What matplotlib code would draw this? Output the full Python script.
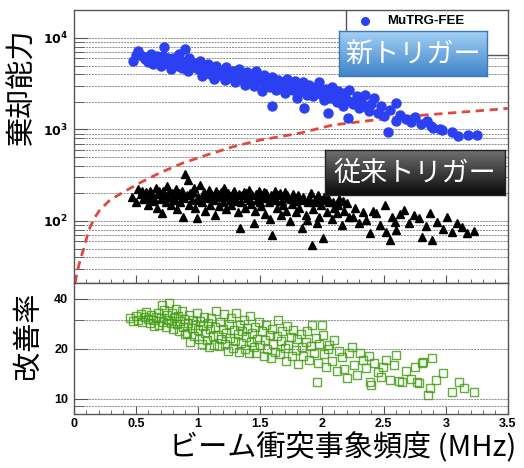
import numpy as np
from matplotlib import pyplot as plt
from matplotlib.patches import Rectangle
from matplotlib.ticker import NullFormatter

plt.rcParams['font.family'] = ['Liberation Sans', 'DejaVu Sans']
JP = ['Noto Sans CJK JP', 'DejaVu Sans']

# rejection power, new trigger (MuTRG-FEE)
blue_x = [0.48, 0.52, 0.55, 0.57, 0.60, 0.62, 0.64, 0.66, 0.68, 0.70,
          0.72, 0.74, 0.73, 0.77, 0.78, 0.80, 0.82, 0.84, 0.85, 0.87,
          0.88, 0.90, 0.92, 0.93, 0.95, 0.97, 1.00, 1.02, 1.03, 1.05,
          1.07, 1.08, 1.10, 1.12, 1.13, 1.15, 1.17, 1.18, 1.20, 1.22,
          1.23, 1.25, 1.27, 1.28, 1.30, 1.32, 1.33, 1.35, 1.37, 1.38,
          1.40, 1.42, 1.43, 1.45, 1.47, 1.48, 1.50, 1.52, 1.53, 1.55,
          1.57, 1.58, 1.60, 1.62, 1.63, 1.65, 1.67, 1.68, 1.70, 1.72,
          1.73, 1.75, 1.77, 1.78, 1.80, 1.82, 1.83, 1.85, 1.87, 1.88,
          1.90, 1.92, 1.93, 1.95, 1.97, 1.98, 2.00, 2.02, 2.03, 2.05,
          2.07, 2.08, 2.10, 2.12, 2.13, 2.15, 2.17, 2.18, 2.20, 2.22,
          2.25, 2.28, 2.30, 2.32, 2.35, 2.38, 2.40, 2.42, 2.45, 2.48,
          2.50, 2.55, 2.60, 2.63, 2.68, 2.72, 2.75, 2.80, 2.85, 2.88,
          2.95, 3.05, 3.10, 3.18, 3.25,
          0.50, 0.58, 0.63, 0.67, 0.71, 0.76, 0.79, 0.83, 0.86, 0.91,
          0.94, 0.99, 1.04, 1.09, 1.14, 1.19, 1.24, 1.29, 1.34, 1.39,
          1.44, 1.49, 1.54, 1.59, 1.64, 1.69, 1.74, 1.79, 1.84, 1.89,
          1.94, 1.99, 2.04, 2.09, 2.14, 2.19, 2.24, 2.29, 2.34, 1.60,
          1.86, 2.05, 2.21, 2.53, 2.60, 2.90, 2.97]
blue_y = [5600, 7200, 6300, 5900, 5500, 6700, 5200, 6000, 5700, 4900,
          6400, 5300, 7900, 5800, 4600, 6100, 5400, 5000, 6600, 4700,
          5500, 7600, 4400, 6000, 4800, 5300, 4600, 5600, 3800, 4900,
          4300, 5200, 4000, 4700, 3600, 5000, 4200, 3900, 4500, 3500,
          4800, 4100, 3700, 4400, 3300, 4000, 4600, 3600, 3900, 3100,
          4200, 3500, 3800, 3000, 4400, 3300, 3600, 2600, 3900, 3100,
          3400, 2900, 3700, 3200, 2700, 3500, 3000, 3300, 2500, 3600,
          2900, 3200, 2700, 3400, 2200, 3000, 2600, 3300, 2800, 2400,
          3100, 2700, 2300, 2900, 2600, 3300, 2400, 2100, 2800, 2500,
          2200, 2900, 2400, 2000, 2600, 2300, 1800, 2500, 2100, 2700,
          1900, 2300, 1700, 2000, 2400, 1600, 1900, 2200, 1500, 1800,
          1400, 1650, 1250, 1450, 1300, 1200, 1380, 1150, 1250, 1100,
          1000, 930, 850, 870, 860,
          6500, 6200, 5800, 6300, 5600, 6000, 5100, 5800, 5300, 5600,
          5100, 5000, 4500, 4700, 4300, 4400, 3900, 4100, 3800, 3600,
          3700, 3500, 3300, 3200, 3100, 3000, 2800, 2900, 2700, 2600,
          2500, 2600, 2300, 2200, 2100, 2200, 2000, 1900, 1800, 1800,
          1720, 1500, 1350, 940, 1950, 1050, 990]

# rejection power, conventional trigger
black_x = [0.47, 0.50, 0.52, 0.54, 0.56, 0.58, 0.60, 0.61, 0.63, 0.64,
           0.66, 0.67, 0.68, 0.70, 0.71, 0.72, 0.74, 0.75, 0.76, 0.78,
           0.79, 0.80, 0.82, 0.83, 0.84, 0.86, 0.87, 0.88, 0.89, 0.90,
           0.92, 0.93, 0.94, 0.95, 0.97, 0.98, 0.99, 1.00, 1.02, 1.03,
           1.05, 1.06, 1.07, 1.09, 1.10, 1.11, 1.13, 1.14, 1.15, 1.17,
           1.18, 1.20, 1.21, 1.23, 1.24, 1.26, 1.27, 1.29, 1.30, 1.32,
           1.33, 1.34, 1.35, 1.37, 1.38, 1.40, 1.41, 1.43, 1.44, 1.45,
           1.46, 1.48, 1.49, 1.51, 1.52, 1.54, 1.55, 1.57, 1.58, 1.60,
           1.61, 1.62, 1.64, 1.65, 1.67, 1.68, 1.70, 1.71, 1.73, 1.74,
           1.76, 1.77, 1.79, 1.80, 1.82, 1.84, 1.85, 1.87, 1.88, 1.89,
           1.91, 1.92, 1.93, 1.95, 1.96, 1.98, 1.99, 2.01, 2.02, 2.04,
           2.06, 2.08, 2.10, 2.12, 2.14, 2.16, 2.18, 2.20, 2.22, 2.25,
           2.27, 2.30, 2.33, 2.36, 2.39, 2.41, 2.44, 2.47, 2.51, 2.52,
           2.55, 2.57, 2.59, 2.60, 2.63, 2.66, 2.70, 2.74, 2.78, 2.81,
           2.84, 2.87, 2.89, 2.93, 2.98, 3.01, 3.05, 3.09, 3.13, 3.17,
           3.23,
           0.55, 0.59, 0.62, 0.65, 0.69, 0.73, 0.77, 0.81, 0.85, 0.91,
           0.96, 1.01, 1.04, 1.08, 1.12, 1.16, 1.19, 1.22, 1.25, 1.28,
           1.31, 1.36, 1.39, 1.42, 1.47, 1.50, 1.53, 1.56, 1.59, 1.63,
           1.66, 1.69, 1.72, 1.75, 1.78, 1.81, 1.86, 1.90, 1.94, 1.97,
           2.00, 2.05, 2.09, 2.13, 2.17]
black_y = [183, 160, 224, 195, 175, 205, 150, 215, 185, 165,
           230, 140, 195, 175, 122, 210, 160, 240, 185, 150,
           200, 170, 225, 135, 190, 160, 210, 111, 180, 326,
           281, 150, 200, 170, 230, 140, 108, 185, 247, 160,
           205, 130, 180, 220, 150, 195, 170, 116, 210, 145,
           185, 160, 230, 135, 200, 170, 150, 215, 180, 125,
           195, 84, 160, 205, 140, 180, 220, 155, 190, 96,
           130, 170, 210, 145, 185, 120, 200, 160, 105, 70,
           175, 215, 140, 190, 115, 165, 205, 130, 180, 100,
           155, 195, 125, 170, 140, 84, 185, 115, 103, 160,
           200, 55, 135, 175, 95, 111, 150, 65, 185, 125,
           160, 105, 140, 122, 175, 90, 130, 157, 110, 111,
           140, 95, 125, 103, 74, 130, 122, 90, 149, 76,
           62, 110, 98, 80, 120, 132, 95, 115, 108, 67,
           88, 122, 62, 98, 82, 110, 76, 95, 85, 74,
           78,
           210, 180, 200, 175, 215, 190, 205, 180, 200, 190,
           205, 170, 190, 200, 180, 195, 205, 185, 190, 200,
           165, 190, 200, 170, 195, 160, 205, 180, 190, 170,
           200, 150, 190, 175, 165, 190, 170, 180, 160, 190,
           170, 180, 160, 150, 165]

# dashed red curve
red_x = [0.01, 0.025, 0.05, 0.08, 0.105, 0.13, 0.17, 0.21, 0.29, 0.40,
         0.53, 0.69, 0.88, 1.07, 1.28, 1.50, 1.82, 2.09, 2.63, 3.00,
         3.44, 3.50]
red_y = [21, 27, 37, 50, 67, 85, 110, 132, 169, 207,
         260, 334, 430, 525, 645, 765, 910, 1120, 1370, 1500,
         1670, 1700]

# improvement factor
green_x = [0.45, 0.48, 0.50, 0.52, 0.54, 0.55, 0.57, 0.58, 0.60, 0.61,
           0.62, 0.64, 0.65, 0.66, 0.68, 0.69, 0.70, 0.71, 0.72, 0.73,
           0.74, 0.75, 0.76, 0.77, 0.78, 0.79, 0.80, 0.81, 0.82, 0.83,
           0.84, 0.85, 0.86, 0.87, 0.88, 0.89, 0.90, 0.91, 0.92, 0.93,
           0.94, 0.95, 0.96, 0.97, 0.98, 0.99, 1.00, 1.01, 1.02, 1.03,
           1.04, 1.05, 1.06, 1.07, 1.08, 1.09, 1.10, 1.11, 1.12, 1.13,
           1.14, 1.15, 1.16, 1.17, 1.18, 1.19, 1.20, 1.21, 1.22, 1.23,
           1.24, 1.25, 1.26, 1.27, 1.28, 1.29, 1.30, 1.31, 1.32, 1.33,
           1.34, 1.35, 1.36, 1.37, 1.38, 1.39, 1.40, 1.41, 1.42, 1.43,
           1.44, 1.45, 1.46, 1.47, 1.48, 1.49, 1.50, 1.52, 1.53, 1.54,
           1.55, 1.56, 1.58, 1.59, 1.60, 1.61, 1.62, 1.64, 1.65, 1.66,
           1.67, 1.68, 1.70, 1.71, 1.72, 1.73, 1.75, 1.76, 1.77, 1.79,
           1.80, 1.81, 1.83, 1.84, 1.85, 1.87, 1.88, 1.90, 1.91, 1.92,
           1.94, 1.95, 1.96, 1.97, 1.98, 2.00, 2.01, 2.02, 2.03, 2.05,
           2.06, 2.08, 2.10, 2.12, 2.14, 2.16, 2.18, 2.20, 2.22, 2.24,
           2.26, 2.28, 2.31, 2.33, 2.36, 2.38, 2.39, 2.40, 2.42, 2.45,
           2.48, 2.49, 2.52, 2.55, 2.58, 2.60, 2.62, 2.65, 2.68, 2.72,
           2.75, 2.77, 2.78, 2.81, 2.82, 2.86, 2.87, 2.89, 2.92, 2.98,
           3.05, 3.11, 3.15, 3.23]
green_y = [30.6, 29.5, 31.5, 30.0, 32.5, 29.0, 31.0, 33.5, 30.2, 28.5,
           32.0, 29.8, 27.5, 31.2, 33.0, 28.0, 30.5, 36.7, 29.2, 34.5,
           27.2, 31.8, 30.0, 38.0, 28.8, 32.8, 26.5, 30.8, 35.0, 28.2,
           31.5, 25.5, 29.5, 33.8, 27.0, 30.2, 24.5, 25.0, 28.5, 32.0,
           22.0, 26.8, 30.0, 24.0, 28.0, 33.0, 26.0, 23.0, 29.5, 21.5,
           27.5, 31.0, 24.8, 22.5, 28.8, 20.5, 26.2, 30.5, 23.8, 21.0,
           27.0, 34.0, 24.2, 20.8, 29.0, 22.8, 26.5, 32.5, 21.5, 25.0,
           19.5, 28.2, 23.2, 30.8, 20.2, 26.0, 22.2, 33.0, 24.5, 19.2,
           27.8, 21.8, 25.5, 29.8, 20.0, 23.5, 26.8, 18.8, 31.5, 22.0,
           24.8, 20.5, 27.2, 19.0, 23.0, 29.0, 21.2, 25.8, 18.0, 22.5,
           28.0, 20.0, 24.2, 17.5, 26.5, 21.5, 19.2, 23.8, 30.0, 18.5,
           22.2, 25.5, 20.2, 16.8, 27.5, 21.0, 23.5, 18.2, 26.0, 19.8,
           22.8, 16.2, 24.5, 20.5, 18.0, 22.0, 25.8, 17.2, 20.8, 28.0,
           19.0, 23.2, 12.6, 16.5, 21.5, 28.0, 24.3, 18.5, 15.5, 20.0,
           21.1, 17.0, 22.5, 14.8, 19.5, 17.8, 15.2, 13.4, 18.8, 20.5,
           16.0, 14.0, 19.0, 17.2, 15.3, 18.2, 12.6, 12.1, 16.5, 14.5,
           13.6, 15.6, 17.2, 13.0, 16.0, 18.4, 12.8, 12.6, 14.8, 13.2,
           15.5, 12.6, 12.4, 16.4, 16.7, 10.5, 11.6, 17.6, 13.0, 14.3,
           11.0, 12.6, 11.6, 11.0]

x_ticks = [0, 0.5, 1, 1.5, 2, 2.5, 3, 3.5]
x_ticklabels = ['0', '0.5', '1', '1.5', '2', '2.5', '3', '3.5']
top_ticks = [1e2, 1e3, 1e4]
top_ticklabels = [r'$\mathbf{10^{2}}$', r'$\mathbf{10^{3}}$', r'$\mathbf{10^{4}}$']
bot_ticks = [10, 20, 40]
bot_ticklabels = ['10', '20', '40']

fig = plt.figure(figsize=(5.24, 4.68), dpi=100)
ax1 = fig.add_axes([0.141, 0.3953, 0.828, 0.5833])
ax2 = fig.add_axes([0.141, 0.1154, 0.828, 0.2799], sharex=ax1)

grid_kw = dict(color='#8c8c8c', linewidth=0.7, dashes=(2.0, 1.0))
spine_col = '#555555'

# top panel
ax1.plot(red_x, red_y, '--', color='#e0493d', lw=2.0, dashes=(3, 2), zorder=2)
ax1.plot(blue_x, blue_y, 'o', ms=6.5, color='#2b40f2', mec='#2b40f2', zorder=3)
ax1.plot(black_x, black_y, '^', ms=5.5, color='black', zorder=3)
ax1.set_yscale('log')
ax1.set_ylim(21, 20200)
ax1.set_xlim(0, 3.5)
ax1.set_yticks(top_ticks, top_ticklabels)
ax1.yaxis.set_minor_formatter(NullFormatter())
ax1.grid(True, axis='y', which='both', **grid_kw)

# bottom panel
ax2.plot(green_x, green_y, 's', ms=5.5, mfc='none', mec='#45a015', mew=1.0, alpha=0.85, zorder=3)
ax2.set_yscale('log')
ax2.set_ylim(8.1, 49.9)
ax2.set_yticks(bot_ticks, bot_ticklabels)
ax2.set_yticks([9, 30], minor=True)
ax2.yaxis.set_minor_formatter(NullFormatter())
ax2.grid(True, axis='y', which='both', **grid_kw)
ax2.set_xticks(x_ticks, x_ticklabels)
ax2.set_xticks(np.arange(0, 3.51, 0.1), minor=True)

for ax in (ax1, ax2):
    ax.set_axisbelow(True)
    for s in ax.spines.values():
        s.set_color(spine_col)
        s.set_linewidth(1.0)
    ax.tick_params(axis='y', which='major', direction='in', length=10, width=0.8,
                   color=spine_col, labelsize=9, pad=4)
    ax.tick_params(axis='y', which='minor', direction='in', length=7, width=0.6, color=spine_col)
    ax.tick_params(axis='x', which='major', direction='in', length=6, width=0.8, color=spine_col,
                   labelsize=9, pad=3)
    ax.tick_params(axis='x', which='minor', direction='in', length=3, width=0.6, color=spine_col)
    for lab in ax.get_xticklabels() + ax.get_yticklabels():
        lab.set_fontweight('bold')
ax1.tick_params(axis='x', labelbottom=False)

# legend box
ax1.add_patch(Rectangle((0.627, 0.835), 0.373, 0.165, transform=ax1.transAxes,
                        facecolor='white', edgecolor=spine_col, lw=1.0, zorder=5))
ax1.plot([0.670], [0.958], 'o', ms=5.5, color='#2b40f2', transform=ax1.transAxes, zorder=6)
ax1.text(0.721, 0.958, 'MuTRG-FEE', transform=ax1.transAxes, fontsize=9.5,
         fontweight='bold', va='center', ha='left', zorder=6)


def label_box(rect, top_col, bot_col, edge_col, text):
    bax = fig.add_axes(rect)
    c0 = np.array(plt.matplotlib.colors.to_rgb(top_col))
    c1 = np.array(plt.matplotlib.colors.to_rgb(bot_col))
    t = np.linspace(0, 1, 64)[:, None, None]
    grad = np.repeat(c0 + (c1 - c0) * t, 2, axis=1)
    bax.imshow(grad, aspect='auto', extent=[0, 1, 0, 1])
    bax.set_xticks([])
    bax.set_yticks([])
    for s in bax.spines.values():
        s.set_color(edge_col)
        s.set_linewidth(1.0)
    bax.text(0.5, 0.48, text, color='white', fontsize=19.5, family=JP,
             ha='center', va='center')


label_box([0.647, 0.838, 0.282, 0.096], '#a3d0f4', '#3f84cb', '#3a78b8', '新トリガー')
label_box([0.620, 0.583, 0.344, 0.096], '#707070', '#0a0a0a', '#222222', '従来トリガー')

# axis titles
fig.text(0.044, 0.814, '棄却能力', rotation=90, fontsize=21, family=JP, ha='center', va='center')
fig.text(0.053, 0.284, '改善率', rotation=90, fontsize=21, family=JP, ha='center', va='center')
fig.text(0.653, 0.043, 'ビーム衝突事象頻度 (MHz)', fontsize=21, family=JP, ha='center', va='center')

plt.savefig('out.png', dpi=100)
